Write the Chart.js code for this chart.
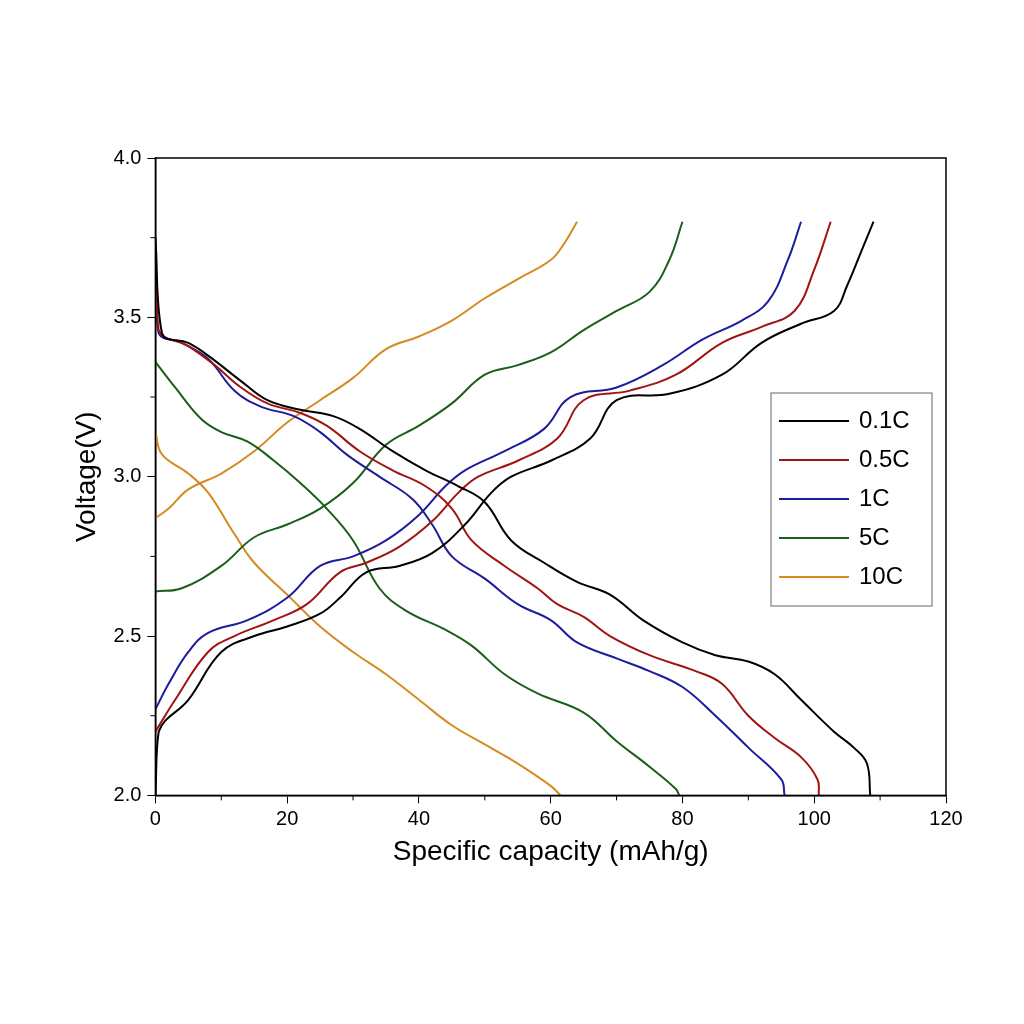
<!DOCTYPE html>
<html><head><meta charset="utf-8">
<script src="https://cdn.jsdelivr.net/npm/chart.js@4"></script>
<style>body{margin:0;background:#fff}</style>
</head><body>
<canvas id="c" width="1024" height="1024"></canvas>
<script>
var rates = ["0.1C","0.5C","1C","5C","10C"];
var colors = ["#000000","#a01414","#1c1c9c","#1b5e1b","#d68a24"];
var xTicks = [0,20,40,60,80,100,120];
var yTicks = [2.0,2.5,3.0,3.5,4.0];

// charge curves [capacity, voltage]
var chg01 = [[0,2.0],[0.5,2.2],[5,2.3],[10,2.45],[15,2.5],[20,2.53],[25,2.57],[28,2.62],[32,2.7],[37,2.72],[42,2.76],[47,2.85],[51,2.95],[54,3.0],[60,3.05],[66,3.12],[70,3.24],[78,3.26],[86,3.32],[92,3.42],[98,3.48],[103,3.52],[105,3.6],[107,3.7],[109,3.8]];
var chg05 = [[0,2.2],[3,2.3],[8,2.45],[12,2.5],[18,2.55],[23,2.6],[28,2.7],[32,2.73],[37,2.78],[42,2.86],[46,2.95],[49,3.0],[55,3.05],[61,3.12],[65,3.24],[72,3.27],[79,3.32],[86,3.42],[92,3.47],[97,3.52],[100,3.65],[102.5,3.8]];
var chg1 = [[0,2.27],[2,2.35],[5,2.45],[8,2.51],[14,2.55],[20,2.62],[25,2.72],[30,2.75],[35,2.8],[40,2.88],[44,2.97],[47,3.02],[53,3.08],[59,3.15],[63,3.25],[70,3.28],[77,3.35],[83,3.43],[89,3.49],[93,3.55],[96,3.68],[98,3.8]];
var chg5 = [[0,2.64],[4,2.65],[10,2.72],[15,2.81],[20,2.85],[25,2.9],[30,2.98],[35,3.1],[40,3.16],[45,3.23],[50,3.32],[55,3.35],[60,3.39],[65,3.46],[70,3.52],[75,3.58],[78,3.68],[80,3.8]];
var chg10 = [[0,2.87],[2,2.9],[5,2.96],[10,3.01],[15,3.08],[20,3.17],[25,3.24],[30,3.31],[35,3.4],[40,3.44],[45,3.49],[50,3.56],[55,3.62],[60,3.68],[62,3.73],[64,3.8]];
// discharge curves
var dis01 = [[0,3.75],[1,3.45],[5,3.42],[8,3.38],[13,3.3],[17,3.24],[22,3.21],[27,3.19],[31,3.15],[36,3.08],[41,3.02],[46,2.97],[50,2.92],[54,2.8],[59,2.73],[64,2.67],[69,2.63],[74,2.55],[80,2.48],[85,2.44],[90,2.42],[94,2.38],[98,2.3],[103,2.2],[106,2.15],[108,2.1],[108.5,2.0]];
var dis05 = [[0,3.7],[0.5,3.46],[5,3.41],[9,3.35],[13,3.28],[17,3.23],[22,3.2],[26,3.16],[31,3.08],[36,3.02],[41,2.97],[45,2.9],[48,2.8],[53,2.72],[58,2.65],[61,2.6],[65,2.56],[69,2.5],[75,2.44],[82,2.39],[86,2.35],[90,2.25],[94,2.18],[98,2.12],[100.5,2.05],[100.7,2.0]];
var dis1 = [[0,3.6],[0.5,3.45],[4,3.42],[8,3.37],[12,3.27],[16,3.22],[21,3.19],[25,3.14],[29,3.07],[34,3.0],[39,2.93],[42,2.85],[45,2.75],[50,2.68],[55,2.6],[60,2.55],[64,2.48],[70,2.43],[75,2.39],[80,2.34],[85,2.25],[90,2.15],[95,2.05],[95.5,2.0]];
var dis5 = [[0,3.36],[3,3.28],[7,3.18],[10,3.14],[14,3.11],[18,3.05],[22,2.98],[26,2.9],[30,2.8],[34,2.65],[38,2.58],[44,2.52],[48,2.47],[53,2.38],[58,2.32],[65,2.26],[70,2.17],[75,2.09],[79,2.02],[79.5,2.0]];
var dis10 = [[0,3.14],[1,3.07],[5,3.01],[8,2.95],[12,2.82],[15,2.73],[20,2.63],[25,2.53],[30,2.45],[35,2.38],[40,2.3],[45,2.22],[50,2.16],[55,2.1],[60,2.03],[61.5,2.0]];

var charges = [chg01,chg05,chg1,chg5,chg10];
var discharges = [dis01,dis05,dis1,dis5,dis10];

function pts(a){ return a.map(function(p){ return {x:p[0], y:p[1]}; }); }

var datasets = [];
for (var i=0;i<rates.length;i++){
  datasets.push({label:rates[i], data:pts(charges[i]), borderColor:colors[i], borderWidth:2, pointRadius:0, tension:0.4, fill:false});
  datasets.push({label:rates[i]+"d", data:pts(discharges[i]), borderColor:colors[i], borderWidth:2, pointRadius:0, tension:0.4, fill:false});
}

var FONT = "'Liberation Sans', Arial, sans-serif";

var extras = {
  id:"extras",
  afterDraw:function(chart){
    var ctx = chart.ctx, a = chart.chartArea, xs = chart.scales.x, ys = chart.scales.y;
    ctx.save();
    ctx.strokeStyle="#000"; ctx.lineWidth=1.5;
    ctx.strokeRect(a.left, a.top, a.right-a.left, a.bottom-a.top);
    // minor ticks
    ctx.lineWidth=1;
    for (var v=10; v<120; v+=20){ var px=xs.getPixelForValue(v); ctx.beginPath(); ctx.moveTo(px,a.bottom); ctx.lineTo(px,a.bottom+5); ctx.stroke(); }
    for (var w=2.25; w<4; w+=0.5){ var py=ys.getPixelForValue(w); ctx.beginPath(); ctx.moveTo(a.left,py); ctx.lineTo(a.left-5,py); ctx.stroke(); }
    // legend box
    var lx=771, ly=393, lw=161, lh=213;
    ctx.strokeStyle="#666"; ctx.strokeRect(lx,ly,lw,lh);
    ctx.font="24px "+FONT; ctx.textBaseline="middle"; ctx.fillStyle="#000";
    for (var i=0;i<rates.length;i++){
      var yy = ly+28+i*39;
      ctx.strokeStyle=colors[i]; ctx.lineWidth=2;
      ctx.beginPath(); ctx.moveTo(lx+8,yy); ctx.lineTo(lx+78,yy); ctx.stroke();
      ctx.fillText(rates[i], lx+88, yy);
    }
    ctx.restore();
  }
};

new Chart(document.getElementById("c"), {
  type:"line",
  data:{datasets:datasets},
  options:{
    responsive:false, animation:false,
    layout:{padding:{left:66, right:78, top:158, bottom:151}},
    plugins:{legend:{display:false}, tooltip:{enabled:false}},
    scales:{
      x:{type:"linear", min:0, max:120,
        afterBuildTicks:function(s){ s.ticks = xTicks.map(function(v){return {value:v};}); },
        ticks:{color:"#000", font:{size:20, family:FONT}, padding:4},
        grid:{drawOnChartArea:false, drawTicks:true, tickLength:8, color:"#000"},
        border:{color:"#000", width:1.5},
        title:{display:true, text:"Specific capacity (mAh/g)", color:"#000", font:{size:28, family:FONT}, padding:{top:0}}},
      y:{type:"linear", min:2, max:4,
        afterBuildTicks:function(s){ s.ticks = yTicks.map(function(v){return {value:v};}); },
        ticks:{color:"#000", font:{size:20, family:FONT}, padding:6, callback:function(v){return Number(v).toFixed(1);}},
        grid:{drawOnChartArea:false, drawTicks:true, tickLength:8, color:"#000"},
        border:{color:"#000", width:1.5},
        title:{display:true, text:"Voltage(V)", color:"#000", font:{size:28, family:FONT}, padding:{bottom:4}}}
    }
  },
  plugins:[extras]
});
</script>
</body></html>
